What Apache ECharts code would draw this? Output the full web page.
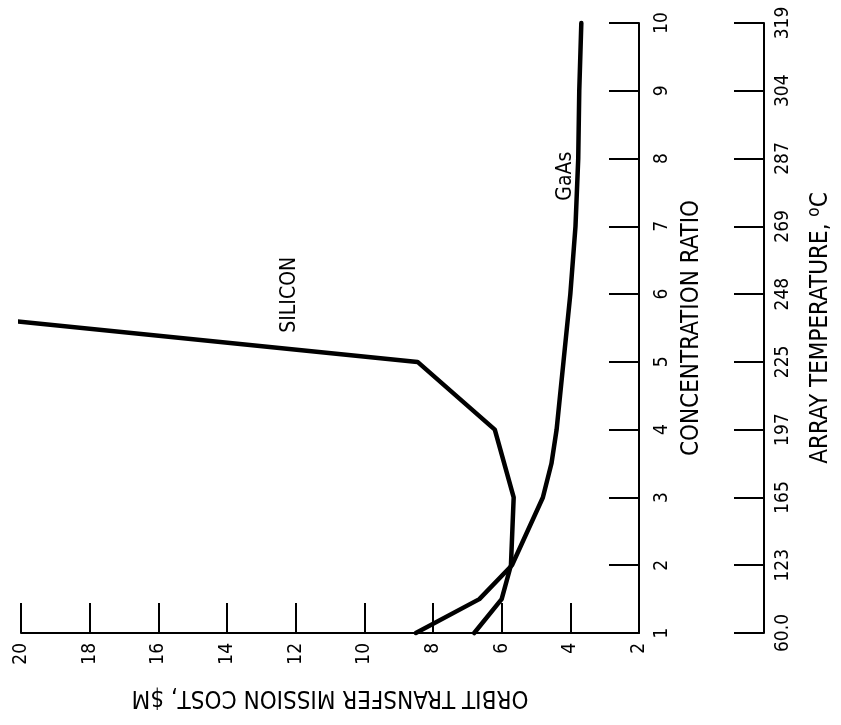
<!DOCTYPE html>
<html>
<head>
<meta charset="utf-8">
<script src="https://cdn.jsdelivr.net/npm/echarts@6/dist/echarts.min.js"></script>
<style>
  html, body { margin: 0; padding: 0; background: #fff; }
  #chart { width: 841px; height: 725px; }
</style>
</head>
<body>
<div id="chart"></div>
<script>
// Concentration ratio ticks and the matching array temperatures (deg C)
const concentrationTicks = [1, 2, 3, 4, 5, 6, 7, 8, 9, 10];
const temperatureLabels = ['60.0', '123', '165', '197', '225', '248', '269', '287', '304', '319'];

// Orbit transfer mission cost ($M) versus concentration ratio
const siliconRatio = [1.0, 1.5, 2.0, 3.0, 4.0, 5.0, 5.6];
const siliconCost  = [6.8, 6.0, 5.73, 5.65, 6.2, 8.45, 20.15];

const gaasRatio = [1.0, 1.5, 2.0, 3.0, 3.5, 4.0, 4.5, 5.0, 6.0, 7.0, 8.0, 9.0, 10.0];
const gaasCost  = [8.5, 6.65, 5.7, 4.8, 4.55, 4.4, 4.3, 4.2, 4.0, 3.85, 3.77, 3.74, 3.68];

// Curve captions: [cost, ratio, text]
const curveLabels = [
  [12.19, 5.99, 'SILICON'],
  [4.14, 7.74, 'GaAs']
];

const FONT = '"Liberation Sans Narrow", "DejaVu Sans Condensed", "Liberation Sans", sans-serif';
const INK = '#000';

const pairs = (xs, ys) => xs.map((x, i) => [ys[i], x]);

const chart = echarts.init(document.getElementById('chart'), null, { renderer: 'canvas' });

chart.setOption({
  animation: false,
  backgroundColor: '#fff',
  grid: { left: 21, right: 198, top: 23, bottom: 92, containLabel: false },
  xAxis: {
    type: 'value',
    min: 2, max: 20, interval: 2,
    inverse: true,
    name: 'ORBIT TRANSFER MISSION COST, $M',
    nameLocation: 'middle',
    nameGap: 52,
    nameRotate: 180,
    nameTextStyle: { fontFamily: FONT, fontSize: 24, color: INK },
    axisLine: { show: true, onZero: false, lineStyle: { color: INK, width: 2 } },
    axisTick: { show: true, inside: true, length: 30, lineStyle: { color: INK, width: 2 } },
    axisLabel: {
      rotate: 90, margin: 10, showMinLabel: true, showMaxLabel: true,
      fontFamily: FONT, fontSize: 19, color: INK
    },
    splitLine: { show: false }
  },
  yAxis: [
    {
      type: 'value',
      position: 'right',
      min: 1, max: 10, interval: 1,
      name: 'CONCENTRATION RATIO',
      nameLocation: 'middle',
      nameRotate: 90,
      nameGap: 36,
      nameTextStyle: { fontFamily: FONT, fontSize: 24, color: INK },
      axisLine: { show: true, onZero: false, lineStyle: { color: INK, width: 2 } },
      axisTick: { show: true, inside: true, length: 30, lineStyle: { color: INK, width: 2 } },
      axisLabel: {
        rotate: 90, margin: 14, showMinLabel: true, showMaxLabel: true,
        fontFamily: FONT, fontSize: 19, color: INK,
        formatter: v => String(concentrationTicks[Math.round(v) - 1])
      },
      splitLine: { show: false }
    },
    {
      type: 'value',
      position: 'right',
      offset: 125,
      min: 1, max: 10, interval: 1,
      name: '{a|ARRAY TEMPERATURE, }{s|o}{a|C}',
      nameLocation: 'middle',
      nameRotate: 90,
      nameGap: 42,
      nameTextStyle: {
        fontFamily: FONT, fontSize: 24, color: INK,
        rich: {
          a: { fontFamily: FONT, fontSize: 24, color: INK, lineHeight: 30 },
          s: { fontFamily: FONT, fontSize: 17, color: INK, verticalAlign: 'top', lineHeight: 30 }
        }
      },
      axisLine: { show: true, onZero: false, lineStyle: { color: INK, width: 2 } },
      axisTick: { show: true, inside: true, length: 30, lineStyle: { color: INK, width: 2 } },
      axisLabel: {
        rotate: 90, margin: 10, showMinLabel: true, showMaxLabel: true,
        fontFamily: FONT, fontSize: 19, color: INK,
        formatter: v => temperatureLabels[Math.round(v) - 1]
      },
      splitLine: { show: false }
    }
  ],
  series: [
    {
      name: 'SILICON',
      type: 'line',
      yAxisIndex: 0,
      data: pairs(siliconRatio, siliconCost),
      showSymbol: false,
      clip: false,
      lineStyle: { color: INK, width: 4.5, join: 'round', cap: 'round' }
    },
    {
      name: 'GaAs',
      type: 'line',
      yAxisIndex: 0,
      data: pairs(gaasRatio, gaasCost),
      showSymbol: false,
      clip: false,
      lineStyle: { color: INK, width: 4.5, join: 'round', cap: 'round' }
    },
    {
      name: 'captions',
      type: 'scatter',
      yAxisIndex: 0,
      symbolSize: 0,
      silent: true,
      itemStyle: { color: INK, opacity: 1 },
      data: curveLabels.map(d => ({ value: [d[0], d[1]], caption: d[2] })),
      label: {
        show: true,
        position: 'inside',
        rotate: 90,
        fontFamily: FONT, fontSize: 21, color: INK,
        textBorderWidth: 0,
        formatter: p => p.data.caption
      }
    }
  ]
});
</script>
</body>
</html>
